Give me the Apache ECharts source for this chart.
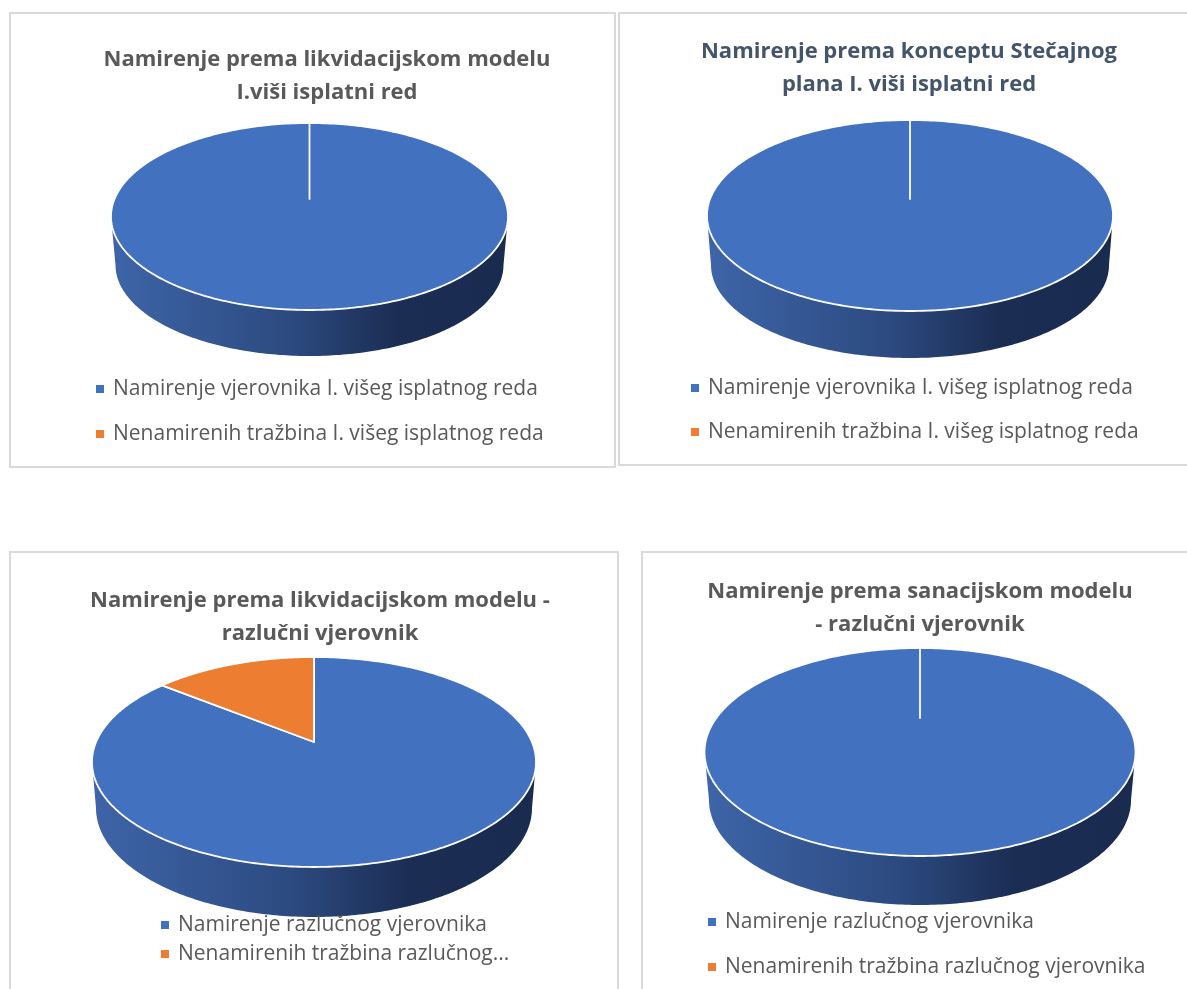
<!DOCTYPE html>
<html><head><meta charset="utf-8">
<style>html,body{margin:0;padding:0;background:#fff}#c{width:1187px;height:989px}</style>
<script src="https://cdn.jsdelivr.net/npm/echarts@6/dist/echarts.min.js"></script>
</head><body><div id="c"></div>
<script>
const chartTitles = [
  'Namirenje prema likvidacijskom modelu\nI.viši isplatni red',
  'Namirenje prema konceptu Stečajnog\nplana I. viši isplatni red',
  'Namirenje prema likvidacijskom modelu -\nrazlučni vjerovnik',
  'Namirenje prema sanacijskom modelu\n- razlučni vjerovnik'
];
const settledNames = [
  'Namirenje vjerovnika I. višeg isplatnog reda',
  'Namirenje vjerovnika I. višeg isplatnog reda',
  'Namirenje razlučnog vjerovnika',
  'Namirenje razlučnog vjerovnika'
];
const unsettledNames = [
  'Nenamirenih tražbina I. višeg isplatnog reda',
  'Nenamirenih tražbina I. višeg isplatnog reda',
  'Nenamirenih tražbina razlučnog vjerovnika',
  'Nenamirenih tražbina razlučnog vjerovnika'
];
const shownUnsettled = [
  'Nenamirenih tražbina I. višeg isplatnog reda',
  'Nenamirenih tražbina I. višeg isplatnog reda',
  'Nenamirenih tražbina razlučnog...',
  'Nenamirenih tražbina razlučnog vjerovnika'
];
const settledValues = [100, 100, 88, 100];
const unsettledValues = [0, 0, 12, 0];

// layout only
const discs = [
  {cx:309.5, cy:216.5, rx:198.5, ry:93.5, apex:199, cx2:309.5, cy2:265, rx2:194, ry2:91},
  {cx:910, cy:215.5, rx:203, ry:95.5, apex:199, cx2:910, cy2:265, rx2:199, ry2:93},
  {cx:314, cy:762, rx:222, ry:105, apex:742, cx2:314, cy2:808, rx2:218, ry2:109},
  {cx:920, cy:752, rx:215.5, ry:104, apex:718, cx2:920, cy2:800, rx2:211, ry2:105}
];
const titlePos = [[327,43,'#595959'],[909,35,'#44546A'],[320,584,'#595959'],[920,575,'#595959']];
const legendPos = [[96,375,45],[691,374,44],[161,911,29],[708,908,45]];
const frames = [[10,13,605,454],[619,13,600,452],[10,552,608,470],[642,552,580,470]];
const BLUE='#4271C0', ORANGE='#ED7D31';
const FONT='"Open Sans", sans-serif';

function renderSlice(i){
  const d=discs[i];
  return function(params,api){
    const start=api.value(0), val=api.value(1);
    if(!val) return null;
    const a0=start/100*2*Math.PI, a1=(start+val)/100*2*Math.PI, N=180;
    const children=[];
    const f0=Math.max(a0,Math.PI/2), f1=Math.min(a1,Math.PI*1.5);
    if(f1>f0){
      const top=[],bot=[];
      for(let k=0;k<=N;k++){
        const t=f0+(f1-f0)*k/N;
        top.push([d.cx+d.rx*Math.sin(t),d.cy-d.ry*Math.cos(t)]);
        bot.push([d.cx2+d.rx2*Math.sin(t),d.cy2-d.ry2*Math.cos(t)]);
      }
      children.push({type:'polygon',shape:{points:top.concat(bot.reverse())},
        style:{fill:new echarts.graphic.LinearGradient(d.cx-d.rx,0,d.cx+d.rx,0,[
          {offset:0,color:'#3E65A8'},{offset:.45,color:'#2C4A80'},{offset:.72,color:'#1B2D53'},{offset:1,color:'#1A2B50'}],true)}});
    }
    const pts=[[d.cx,d.apex]];
    for(let k=0;k<=N*2;k++){
      const t=a0+(a1-a0)*k/(N*2);
      pts.push([d.cx+d.rx*Math.sin(t),d.cy-d.ry*Math.cos(t)]);
    }
    children.push({type:'polygon',shape:{points:pts},
      style:{fill:api.visual('color'),stroke:'#fff',lineWidth:1.8,lineJoin:'round'}});
    return {type:'group',children};
  };
}

const series=[];
discs.forEach((d,i)=>{
  series.push({type:'custom',coordinateSystem:'none',name:settledNames[i],silent:true,
    itemStyle:{color:BLUE},renderItem:renderSlice(i),data:[[0,settledValues[i]]],z:2});
  series.push({type:'custom',coordinateSystem:'none',name:unsettledNames[i],silent:true,
    itemStyle:{color:ORANGE},renderItem:renderSlice(i),data:[[settledValues[i],unsettledValues[i]]],z:3});
});

const chart=echarts.init(document.getElementById('c'),null,{renderer:'canvas'});
chart.setOption({
  animation:false,
  backgroundColor:'#fff',
  graphic:frames.map(f=>({type:'rect',silent:true,z:0,shape:{x:f[0],y:f[1],width:f[2],height:f[3]},
    style:{fill:'#fff',stroke:'#D9D9D9',lineWidth:2}})),
  title:chartTitles.map((t,i)=>({text:t,left:titlePos[i][0],top:titlePos[i][1],textAlign:'center',padding:0,
    textStyle:{fontFamily:FONT,fontWeight:'bold',fontSize:22,lineHeight:33,color:titlePos[i][2]}})),
  legend:discs.map((d,i)=>({
    orient:'vertical',left:legendPos[i][0],top:legendPos[i][1],padding:0,
    itemGap:legendPos[i][2]-28,itemWidth:8,itemHeight:8,icon:'rect',selectedMode:false,
    data:[settledNames[i],unsettledNames[i]],
    formatter:n=>n===unsettledNames[i]?shownUnsettled[i]:n,
    textStyle:{fontFamily:FONT,fontSize:21,lineHeight:28,color:'#595959',padding:[0,0,0,4]}
  })),
  series
});
</script></body></html>
